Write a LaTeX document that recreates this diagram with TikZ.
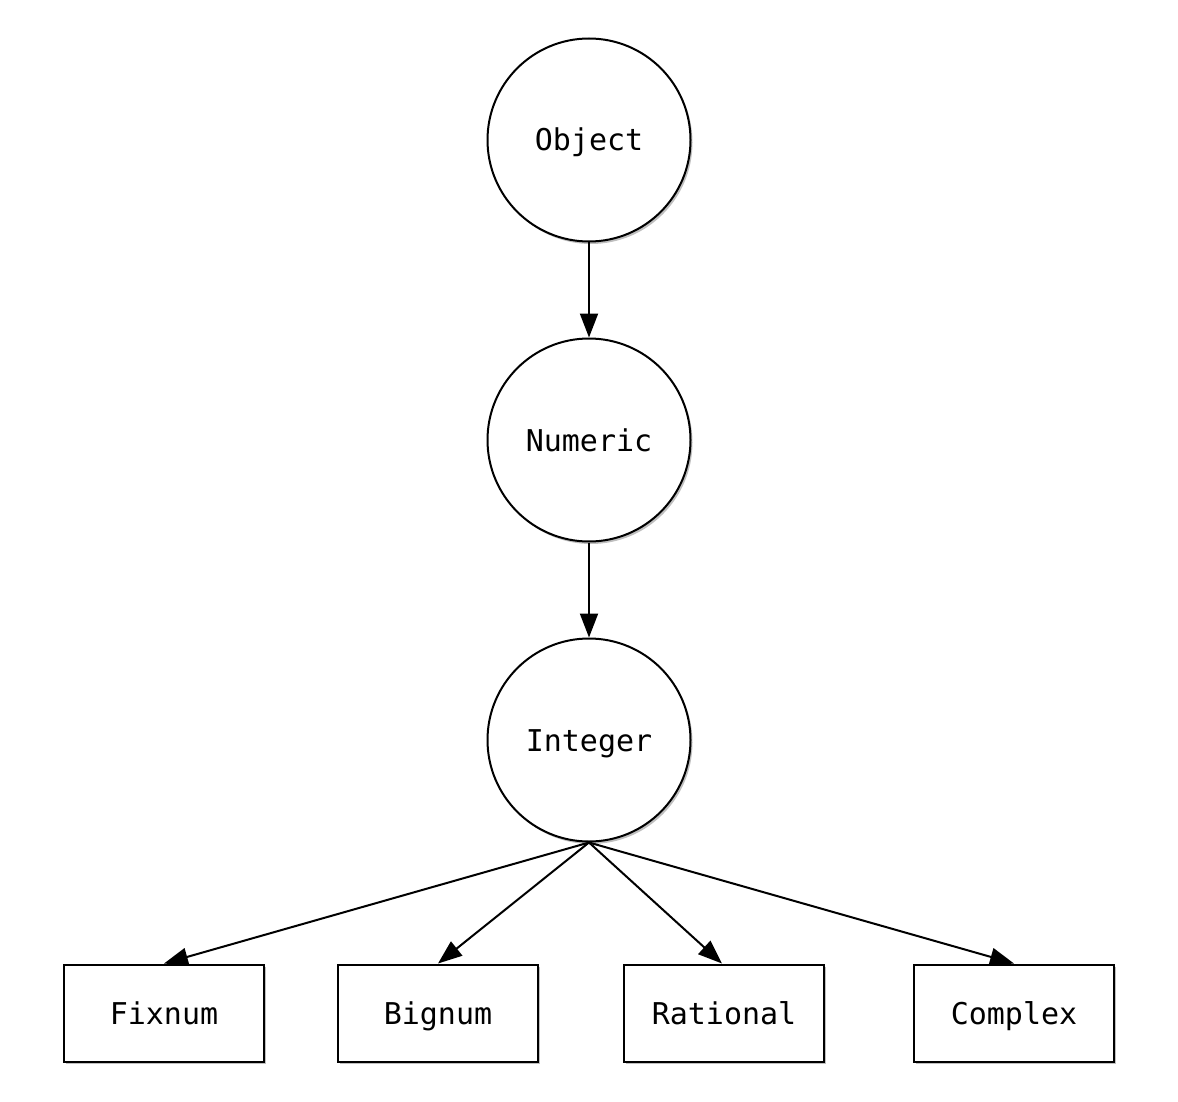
\documentclass[tikz,border=0pt]{standalone}
\usepackage{fontspec}
\newfontfamily\monofont{DejaVu Sans Mono}
\usetikzlibrary{arrows.meta,shadows}
\begin{document}
\begin{tikzpicture}[x=1pt,y=-1pt,
  base/.style={draw=black,line width=2pt,fill=white,font=\monofont\fontsize{30}{34}\selectfont,
    text height=23pt,text depth=1pt,
    drop shadow={shadow xshift=2pt,shadow yshift=-2.5pt,opacity=0.25,fill=black}},
  cls/.style={base,circle,minimum size=203pt,inner sep=0pt},
  leaf/.style={base,rectangle,minimum width=200pt,minimum height=97pt,inner sep=0pt},
  link/.style={line width=2pt,-{Triangle[length=24pt,width=18pt]}}]
\useasboundingbox (0,0) rectangle (1178,1102);
\node[cls] (object) at (589,140) {Object};
\node[cls] (numeric) at (589,440) {Numeric};
\node[cls] (integer) at (589,740) {Integer};
\node[leaf] (fixnum) at (164,1013) {Fixnum};
\node[leaf] (bignum) at (438,1013) {Bignum};
\node[leaf] (rational) at (724,1013) {Rational};
\node[leaf] (complex) at (1014,1013) {Complex};
\draw[link] (object) -- (numeric);
\draw[link] (numeric) -- (integer);
\draw[link] (integer.south) -- (fixnum.north);
\draw[link] (integer.south) -- (bignum.north);
\draw[link] (integer.south) -- ([xshift=-2pt]rational.north);
\draw[link] (integer.south) -- (complex.north);
\end{tikzpicture}
\end{document}
